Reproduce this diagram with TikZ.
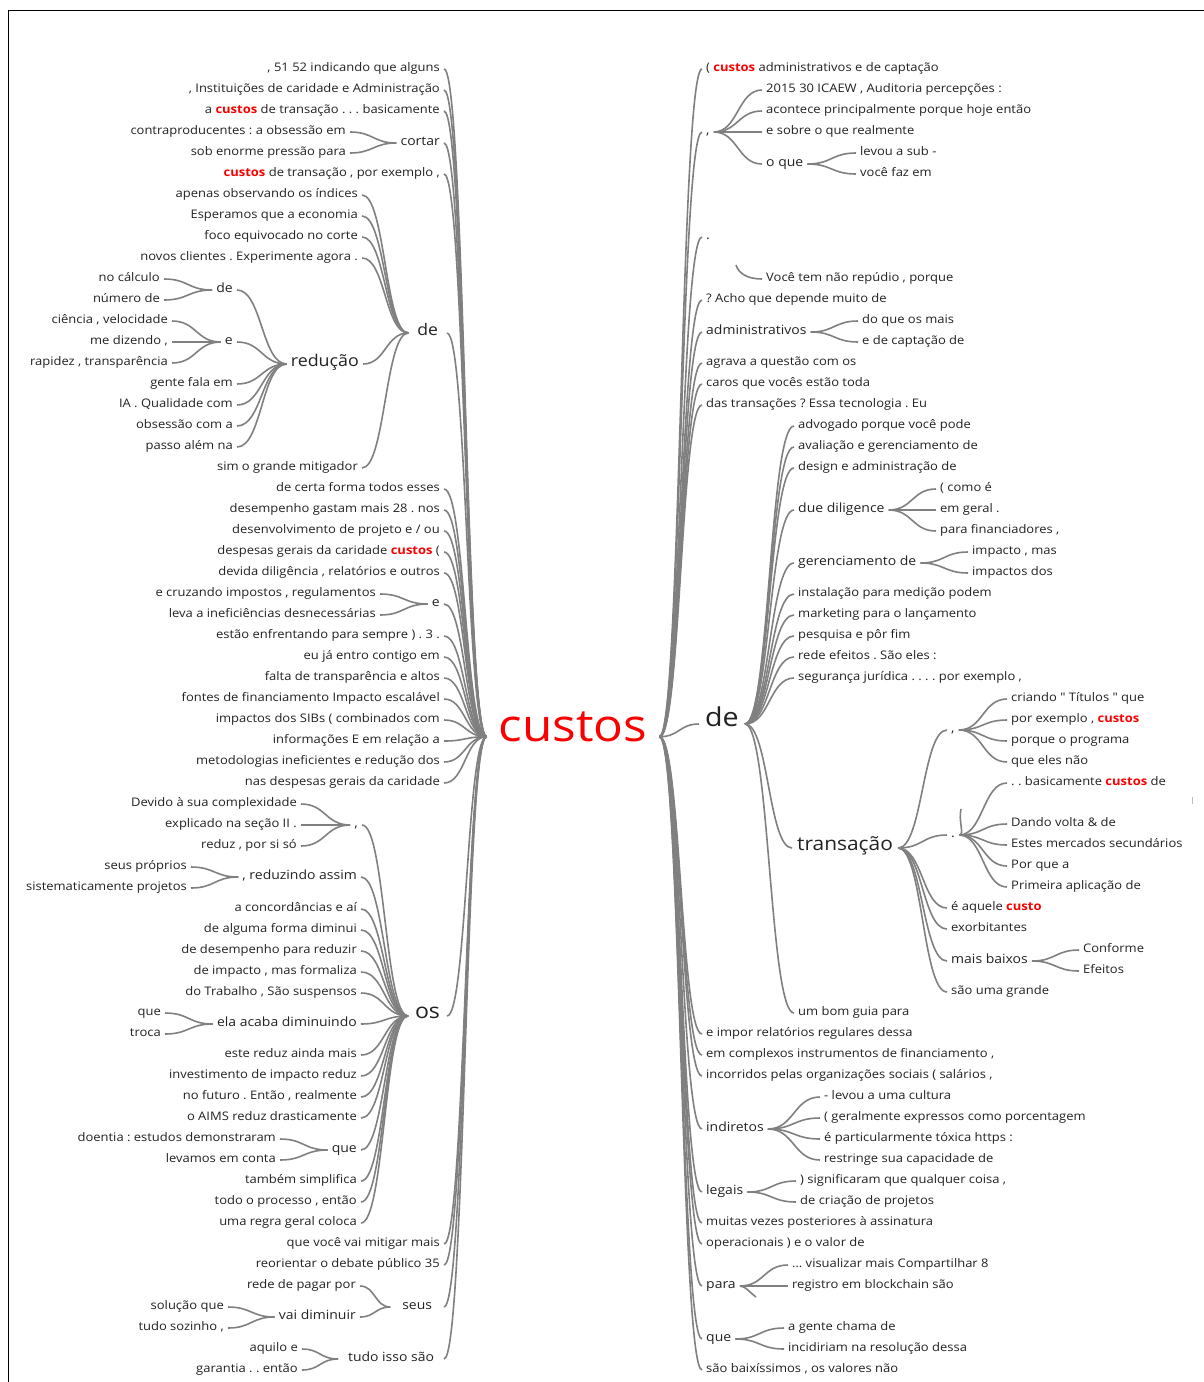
\documentclass[tikz,border=0pt]{standalone}
\usepackage{fontspec}
\setmainfont{Open Sans}[FakeStretch=1.1]
\newfontfamily\nq{Open Sans}[FakeStretch=1.1]
\AtBeginDocument{\frenchspacing}
\usetikzlibrary{calc}
\definecolor{edgegray}{RGB}{128,128,128}
\definecolor{txt}{RGB}{34,34,34}
\definecolor{hl}{RGB}{250,0,0}
\newcommand\hi[1]{\textcolor{hl}{\bfseries #1}}
\tikzset{
  leaf/.style={inner xsep=4pt, inner ysep=1pt, text height=1.5ex, text depth=.4ex, text=txt, font=\fontsize{11.8}{14}\selectfont},
  mid/.style={leaf, font=\fontsize{12.7}{15}\selectfont},
  lw/.style={anchor=east},
  rw/.style={anchor=west},
  edge/.style={draw=edgegray, line width=1.6pt},
}
\newcommand\lk[2]{\coordinate (mm) at ($(#1)!0.5!(#2)$);\draw[edge] (#1) .. controls (mm |- #1) and (mm |- #2) .. (#2);}
\newcommand\lkl[2]{\lk{#1.west}{#2.east}}
\newcommand\lkr[2]{\lk{#1.east}{#2.west}}
\begin{document}
\frenchspacing
\begin{tikzpicture}[x=1pt,y=-1pt]
\fill[white] (0,0) rectangle (1204,1382);
\useasboundingbox (0,0) rectangle (1204,1382);
\draw[black, line width=1pt] (8,1382) -- (8,10) -- (1204,10);
\draw[gray!50, line width=0.8pt] (1192,797) -- (1192,804);

\begin{scope}[yshift=-3pt]
% root
\node[leaf, anchor=base, inner xsep=12pt, text height=2ex, text depth=.4ex, font=\fontsize{45}{50}\selectfont, text=hl] (root) at (573,738) {custos};

% ---------------- LEFT ----------------
\node[leaf,lw] (L0) at (444,66) {, 51 52 indicando que alguns};
\node[leaf,lw] (L1) at (444,87) {, Instituições de caridade e Administração};
\node[leaf,lw] (L2) at (444,108) {a \hi{custos} de transação . . . basicamente};
\node[mid,lw] (Lcortar) at (444,140) {cortar};
 \node[leaf,lw] (Lc1) at (350,129) {contraproducentes : a obsessão em};
 \node[leaf,lw] (Lc2) at (350,150) {sob enorme pressão para};
\node[leaf,lw] (L5) at (444,171) {\hi{custos} de transação , por exemplo ,};
\node[leaf,lw,font=\fontsize{16}{18}\selectfont,outer xsep=5pt] (Lde) at (447,330) {de};
 \node[leaf,lw] (Ld1) at (362,192) {apenas observando os índices};
 \node[leaf,lw] (Ld2) at (362,213) {Esperamos que a economia};
 \node[leaf,lw] (Ld3) at (362,234) {foco equivocado no corte};
 \node[leaf,lw] (Ld4) at (362,255) {novos clientes . Experimente agora .};
 \node[leaf,lw,font=\fontsize{16.2}{18}\selectfont] (Lred) at (363,361) {redução};
  \node[mid,lw] (Lrde) at (237,287) {de};
   \node[leaf,lw] (Lrde1) at (164,276) {no cálculo};
   \node[leaf,lw] (Lrde2) at (164,297) {número de};
  \node[mid,lw] (Lre) at (237,339) {e};
   \node[leaf,lw] (Lre1) at (172,318) {ciência , velocidade};
   \node[leaf,lw] (Lre2) at (172,339) {me dizendo ,};
   \node[leaf,lw] (Lre3) at (172,360) {rapidez , transparência};
  \node[leaf,lw] (Lr3) at (237,381) {gente fala em};
  \node[leaf,lw] (Lr4) at (237,402) {IA . Qualidade com};
  \node[leaf,lw] (Lr5) at (237,423) {obsessão com a};
  \node[leaf,lw] (Lr6) at (237,444) {passo além na};
 \node[leaf,lw] (Ld6) at (362,465) {sim o grande mitigador};
\node[leaf,lw] (L20) at (444,486) {de certa forma todos esses};
\node[leaf,lw] (L21) at (444,507) {desempenho gastam mais 28 . nos};
\node[leaf,lw] (L22) at (444,528) {desenvolvimento de projeto e / ou};
\node[leaf,lw] (L23) at (444,549) {despesas gerais da caridade \hi{custos} (};
\node[leaf,lw] (L24) at (444,570) {devida diligência , relatórios e outros};
\node[mid,lw] (Le) at (444,601) {e};
 \node[leaf,lw] (Le1) at (380,591) {e cruzando impostos , regulamentos};
 \node[leaf,lw] (Le2) at (380,612) {leva a ineficiências desnecessárias};
\node[leaf,lw] (L27) at (444,633) {estão enfrentando para sempre ) . 3 .};
\node[leaf,lw] (L28) at (444,654) {eu já entro contigo em};
\node[leaf,lw] (L29) at (444,675) {falta de transparência e altos};
\node[leaf,lw] (L30) at (444,696) {fontes de financiamento Impacto escalável};
\node[leaf,lw] (L31) at (444,717) {impactos dos SIBs ( combinados com};
\node[leaf,lw] (L32) at (444,738) {informações E em relação a};
\node[leaf,lw] (L33) at (444,759) {metodologias ineficientes e redução dos};
\node[leaf,lw] (L34) at (444,780) {nas despesas gerais da caridade};
\node[leaf,lw,font=\fontsize{21}{24}\selectfont,outer xsep=3pt] (Los) at (447,1013) {os};
 \node[mid,lw] (Lo1) at (362,822) {,};
  \node[leaf,lw] (Lo11) at (301,801) {Devido à sua complexidade};
  \node[leaf,lw] (Lo12) at (301,822) {explicado na seção II .};
  \node[leaf,lw] (Lo13) at (301,843) {reduz , por si só};
 \node[mid,lw] (Lo2) at (361,874) {, reduzindo assim};
  \node[leaf,lw] (Lo21) at (191,864) {seus próprios};
  \node[leaf,lw] (Lo22) at (191,885) {sistematicamente projetos};
 \node[leaf,lw] (Lo3) at (361,906) {a concordâncias e aí};
 \node[leaf,lw] (Lo4) at (361,927) {de alguma forma diminui};
 \node[leaf,lw] (Lo5) at (361,948) {de desempenho para reduzir};
 \node[leaf,lw] (Lo6) at (361,969) {de impacto , mas formaliza};
 \node[leaf,lw] (Lo7) at (361,990) {do Trabalho , São suspensos};
 \node[mid,lw] (Lo8) at (361,1021) {ela acaba diminuindo};
  \node[leaf,lw] (Lo81) at (165,1010) {que};
  \node[leaf,lw] (Lo82) at (165,1031) {troca};
 \node[leaf,lw] (Lo9) at (361,1052) {este reduz ainda mais};
 \node[leaf,lw] (Lo10) at (361,1073) {investimento de impacto reduz};
 \node[leaf,lw] (Lo11b) at (361,1094) {no futuro . Então , realmente};
 \node[leaf,lw] (Lo12b) at (361,1115) {o AIMS reduz drasticamente};
 \node[mid,lw] (Lo13b) at (361,1147) {que};
  \node[leaf,lw] (Lq1) at (280,1136) {doentia : estudos demonstraram};
  \node[leaf,lw] (Lq2) at (280,1157) {levamos em conta};
 \node[leaf,lw] (Lo14) at (361,1178) {também simplifica};
 \node[leaf,lw] (Lo15) at (361,1199) {todo o processo , então};
 \node[leaf,lw] (Lo16) at (361,1220) {uma regra geral coloca};
\node[leaf,lw] (L56) at (444,1241) {que você vai mitigar mais};
\node[leaf,lw] (L57) at (444,1262) {reorientar o debate público 35};
\node[mid,lw,outer xsep=8pt] (Lseus) at (444,1304) {seus};
 \node[leaf,lw] (Ls1) at (360,1283) {rede de pagar por};
 \node[mid,lw] (Ls2) at (360,1314) {vai diminuir};
  \node[leaf,lw] (Ls21) at (228,1304) {solução que};
  \node[leaf,lw] (Ls22) at (228,1325) {tudo sozinho ,};
\node[mid,lw,outer xsep=6pt] (Ltudo) at (444,1356) {tudo isso são};
 \node[leaf,lw] (Lt1) at (302,1346) {aquilo e};
 \node[leaf,lw] (Lt2) at (302,1367) {garantia . . então};

% ---------------- RIGHT ----------------
\node[leaf,rw] (R0) at (702,66) {( \hi{custos} administrativos e de captação};
\node[mid,rw] (Rc) at (702,129) {,};
 \node[leaf,rw] (Rc1) at (762,87) {2015 30 ICAEW , Auditoria percepções :};
 \node[leaf,rw] (Rc2) at (762,108) {acontece principalmente porque hoje então};
 \node[leaf,rw] (Rc3) at (762,129) {e sobre o que realmente};
 \node[mid,rw] (Rc4) at (762,161) {o que};
  \node[leaf,rw] (Rc41) at (856,150) {levou a sub -};
  \node[leaf,rw] (Rc42) at (856,171) {você faz em};
\node[mid,rw] (Rdot) at (702,234) {.};
 \node[leaf,rw] (Rdot1) at (762,276) {Você tem não repúdio , porque};
 \coordinate (Rdk) at (736,262);
\node[leaf,rw] (R11) at (702,297) {? Acho que depende muito de};
\node[mid,rw] (Radm) at (702,329) {administrativos};
 \node[leaf,rw] (Radm1) at (858,318) {do que os mais};
 \node[leaf,rw] (Radm2) at (858,339) {e de captação de};
\node[leaf,rw] (R14) at (702,360) {agrava a questão com os};
\node[leaf,rw] (R15) at (702,381) {caros que vocês estão toda};
\node[leaf,rw] (R16) at (702,402) {das transações ? Essa tecnologia . Eu};
\node[leaf,rw,inner xsep=6pt,font=\fontsize{26}{30}\selectfont] (Rde) at (699,721) {de};
 \node[leaf,rw] (Rd1) at (794,423) {advogado porque você pode};
 \node[leaf,rw] (Rd2) at (794,444) {avaliação e gerenciamento de};
 \node[leaf,rw] (Rd3) at (794,465) {design e administração de};
 \node[mid,rw] (Rdd) at (794,507) {due diligence};
  \node[leaf,rw] (Rdd1) at (936,486) {( como é};
  \node[leaf,rw] (Rdd2) at (936,507) {em geral .};
  \node[leaf,rw] (Rdd3) at (936,528) {para financiadores ,};
 \node[mid,rw] (Rdg) at (794,560) {gerenciamento de};
  \node[leaf,rw] (Rdg1) at (968,549) {impacto , mas};
  \node[leaf,rw] (Rdg2) at (968,570) {impactos dos};
 \node[leaf,rw] (Rd6) at (794,591) {instalação para medição podem};
 \node[leaf,rw] (Rd7) at (794,612) {marketing para o lançamento};
 \node[leaf,rw] (Rd8) at (794,633) {pesquisa e pôr fim};
 \node[leaf,rw] (Rd9) at (794,654) {rede efeitos . São eles :};
 \node[leaf,rw] (Rd10) at (794,675) {segurança jurídica . . . . por exemplo ,};
 \node[leaf,rw,inner xsep=5pt,font=\fontsize{19}{22}\selectfont] (Rt) at (792,845) {transação};
  \node[mid,rw] (Rtc) at (947,727) {,};
   \node[leaf,rw] (Rtc1) at (1007,696) {criando {\nq"} Títulos {\nq"} que};
   \node[leaf,rw] (Rtc2) at (1007,717) {por exemplo , \hi{custos}};
   \node[leaf,rw] (Rtc3) at (1007,738) {porque o programa};
   \node[leaf,rw] (Rtc4) at (1007,759) {que eles não};
  \node[mid,rw] (Rtd) at (947,832) {.};
   \node[leaf,rw] (Rtd1) at (1007,780) {. . basicamente \hi{custos} de};
   \coordinate (Rtdk) at (961,806);
   \node[leaf,rw] (Rtd2) at (1007,821) {Dando volta \& de};
   \node[leaf,rw] (Rtd3) at (1007,842) {Estes mercados secundários};
   \node[leaf,rw] (Rtd4) at (1007,863) {Por que a};
   \node[leaf,rw] (Rtd5) at (1007,884) {Primeira aplicação de};
  \node[leaf,rw] (Rt3) at (947,905) {é aquele \hi{custo}};
  \node[leaf,rw] (Rt4) at (947,926) {exorbitantes};
  \node[mid,rw] (Rtm) at (947,958) {mais baixos};
   \node[leaf,rw] (Rtm1) at (1079,947) {Conforme};
   \node[leaf,rw] (Rtm2) at (1079,968) {Efeitos};
  \node[leaf,rw] (Rt6) at (947,989) {são uma grande};
 \node[leaf,rw] (Rd12) at (794,1010) {um bom guia para};
\node[leaf,rw] (R46) at (702,1031) {e impor relatórios regulares dessa};
\node[leaf,rw] (R47) at (702,1052) {em complexos instrumentos de financiamento ,};
\node[leaf,rw] (R48) at (702,1073) {incorridos pelas organizações sociais ( salários ,};
\node[mid,rw] (Rind) at (702,1126) {indiretos};
 \node[leaf,rw] (Ri1) at (820,1094) {- levou a uma cultura};
 \node[leaf,rw] (Ri2) at (820,1115) {( geralmente expressos como porcentagem};
 \node[leaf,rw] (Ri3) at (820,1136) {é particularmente tóxica https :};
 \node[leaf,rw] (Ri4) at (820,1157) {restringe sua capacidade de};
\node[mid,rw] (Rleg) at (702,1189) {legais};
 \node[leaf,rw] (Rl1) at (796,1178) {) significaram que qualquer coisa ,};
 \node[leaf,rw] (Rl2) at (796,1199) {de criação de projetos};
\node[leaf,rw] (R55) at (702,1220) {muitas vezes posteriores à assinatura};
\node[leaf,rw] (R56) at (702,1241) {operacionais ) e o valor de};
\node[mid,rw] (Rpara) at (702,1283) {para};
 \node[leaf,rw] (Rp1) at (788,1262) {… visualizar mais Compartilhar 8};
 \node[leaf,rw] (Rp2) at (788,1283) {registro em blockchain são};
 \coordinate (Rpk) at (756,1294);
\node[mid,rw] (Rque) at (702,1336) {que};
 \node[leaf,rw] (Rq1) at (784,1325) {a gente chama de};
 \node[leaf,rw] (Rq2) at (784,1346) {incidiriam na resolução dessa};
\node[leaf,rw] (R62) at (702,1367) {são baixíssimos , os valores não};

% ---------------- EDGES ----------------
\foreach \c in {L0,L1,L2,Lcortar,L5,Lde,L20,L21,L22,L23,L24,Le,L27,L28,L29,L30,L31,L32,L33,L34,Los,L56,L57,Lseus,Ltudo} {\lkl{root}{\c}}
\foreach \c in {Lc1,Lc2} {\lkl{Lcortar}{\c}}
\foreach \c in {Ld1,Ld2,Ld3,Ld4,Lred,Ld6} {\lkl{Lde}{\c}}
\foreach \c in {Lrde,Lre,Lr3,Lr4,Lr5,Lr6} {\lkl{Lred}{\c}}
\foreach \c in {Lrde1,Lrde2} {\lkl{Lrde}{\c}}
\foreach \c in {Lre1,Lre2,Lre3} {\lkl{Lre}{\c}}
\foreach \c in {Le1,Le2} {\lkl{Le}{\c}}
\foreach \c in {Lo1,Lo2,Lo3,Lo4,Lo5,Lo6,Lo7,Lo8,Lo9,Lo10,Lo11b,Lo12b,Lo13b,Lo14,Lo15,Lo16} {\lkl{Los}{\c}}
\foreach \c in {Lo11,Lo12,Lo13} {\lkl{Lo1}{\c}}
\foreach \c in {Lo21,Lo22} {\lkl{Lo2}{\c}}
\foreach \c in {Lo81,Lo82} {\lkl{Lo8}{\c}}
\foreach \c in {Lq1,Lq2} {\lkl{Lo13b}{\c}}
\foreach \c in {Ls1,Ls2} {\lkl{Lseus}{\c}}
\foreach \c in {Ls21,Ls22} {\lkl{Ls2}{\c}}
\foreach \c in {Lt1,Lt2} {\lkl{Ltudo}{\c}}

\foreach \c in {R0,Rc,Rdot,R11,Radm,R14,R15,R16,Rde,R46,R47,R48,Rind,Rleg,R55,R56,Rpara,Rque,R62} {\lkr{root}{\c}}
\foreach \c in {Rc1,Rc2,Rc3,Rc4} {\lkr{Rc}{\c}}
\foreach \c in {Rc41,Rc42} {\lkr{Rc4}{\c}}
\foreach \c in {Radm1,Radm2} {\lkr{Radm}{\c}}
\foreach \c in {Rd1,Rd2,Rd3,Rdd,Rdg,Rd6,Rd7,Rd8,Rd9,Rd10,Rt,Rd12} {\lkr{Rde}{\c}}
\foreach \c in {Rdd1,Rdd2,Rdd3} {\lkr{Rdd}{\c}}
\foreach \c in {Rdg1,Rdg2} {\lkr{Rdg}{\c}}
\foreach \c in {Rtc,Rtd,Rt3,Rt4,Rtm,Rt6} {\lkr{Rt}{\c}}
\foreach \c in {Rtc1,Rtc2,Rtc3,Rtc4} {\lkr{Rtc}{\c}}
\foreach \c in {Rtd1,Rtd2,Rtd3,Rtd4,Rtd5} {\lkr{Rtd}{\c}}
\foreach \c in {Rtm1,Rtm2} {\lkr{Rtm}{\c}}
\foreach \c in {Ri1,Ri2,Ri3,Ri4} {\lkr{Rind}{\c}}
\foreach \c in {Rl1,Rl2} {\lkr{Rleg}{\c}}
\foreach \c in {Rp1,Rp2} {\lkr{Rpara}{\c}}
\foreach \c in {Rq1,Rq2} {\lkr{Rque}{\c}}
% partial stubs
\draw[edge] (Rdk) .. controls +(3,10) and +(-12,0) .. (Rdot1.west);
\draw[edge] (Rtd.east) .. controls +(6,0) and +(-3,12) .. (Rtdk);
\draw[edge] (Rpara.east) .. controls +(6,0) and +(-6,-4) .. (Rpk);
\end{scope}
\end{tikzpicture}
\end{document}
